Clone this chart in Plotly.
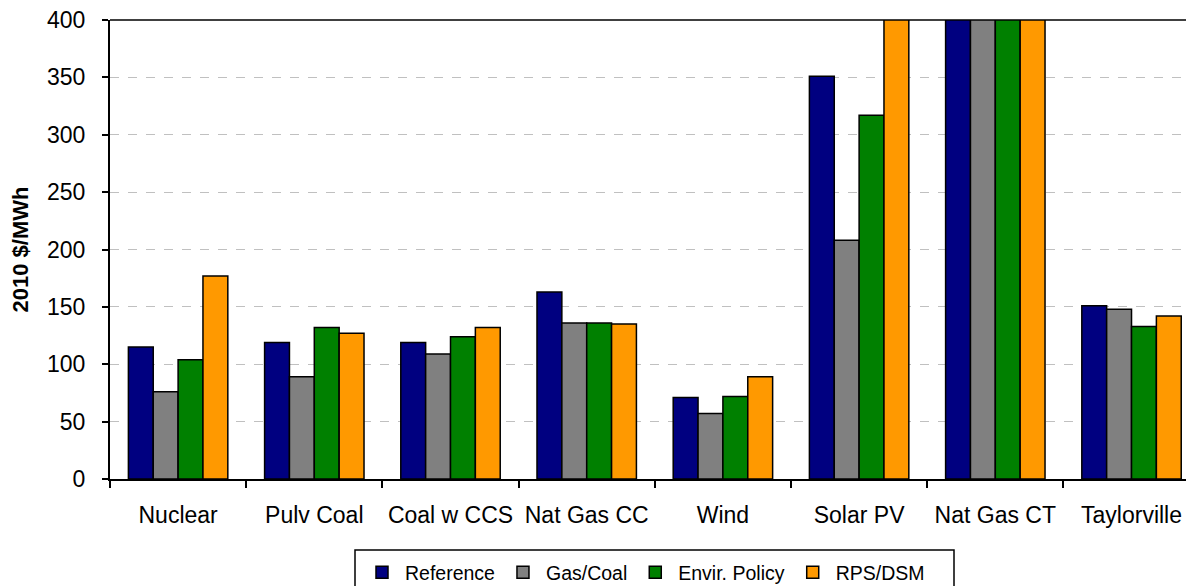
import plotly.graph_objects as go

# Levelized cost of generation by technology and scenario (2010 $/MWh)
technologies = ["Nuclear", "Pulv Coal", "Coal w CCS", "Nat Gas CC",
                "Wind", "Solar PV", "Nat Gas CT", "Taylorville"]

reference = [115, 119, 119, 163, 71, 351, 520, 151]
gas_coal = [76, 89, 109, 136, 57, 208, 470, 148]
envir_policy = [104, 132, 124, 136, 72, 317, 510, 133]
rps_dsm = [177, 127, 132, 135, 89, 450, 560, 142]

series_names = ["Reference", "Gas/Coal", "Envir. Policy", "RPS/DSM"]
series_values = [reference, gas_coal, envir_policy, rps_dsm]
series_colors = ["#000080", "#808080", "#008000", "#FF9900"]

y_ticks = [0, 50, 100, 150, 200, 250, 300, 350, 400]

FONT = "Liberation Sans, Arial, sans-serif"
FIG_W, FIG_H = 1186, 586

# Plot area in pixels: x 110..1186, y 20..479
PLOT_L, PLOT_W = 110, 1076
PLOT_B, PLOT_H = 479, 459


def px_x(p):
    return (p - PLOT_L) / PLOT_W


def px_y(p):
    return (PLOT_B - p) / PLOT_H


fig = go.Figure()
for name, vals, col in zip(series_names, series_values, series_colors):
    fig.add_trace(go.Bar(
        x=technologies, y=vals, name=name,
        marker=dict(color=col, line=dict(color="#000000", width=1.5)),
    ))

fig.update_layout(
    width=FIG_W, height=FIG_H,
    margin=dict(l=110, r=0, t=20, b=107, autoexpand=False),
    paper_bgcolor="white", plot_bgcolor="white",
    barmode="group", bargap=0.27, bargroupgap=0,
    font=dict(family=FONT, size=23, color="#000000"),
    showlegend=True,
    legend=dict(
        orientation="h",
        xref="container", x=359 / FIG_W, xanchor="left",
        yref="container", y=(FIG_H - 553) / FIG_H, yanchor="top",
        font=dict(family=FONT, size=19.5, color="#000000"),
        borderwidth=0, bgcolor="rgba(0,0,0,0)",
        itemwidth=36, traceorder="normal",
    ),
)

fig.update_xaxes(
    type="category", range=[-0.5, 7.40], automargin=False,
    tickson="boundaries", ticks="outside", ticklen=7, tickwidth=1.5,
    tickcolor="#000000",
    showline=True, linecolor="#000000", linewidth=2,
    showgrid=False, tickfont=dict(size=23),
    ticklabelstandoff=14,
)

fig.update_yaxes(
    range=[0, 400], tickvals=y_ticks, automargin=False,
    ticks="outside", ticklen=6, tickwidth=1.5, tickcolor="#000000",
    showline=True, linecolor="#000000", linewidth=2,
    showgrid=True, gridcolor="#c0c0c0", griddash="dash", gridwidth=1,
    zeroline=False, tickfont=dict(size=23),
    ticklabelstandoff=12,
)

# Plot area top border
fig.add_shape(type="line", xref="paper", yref="paper",
              x0=0, x1=1, y0=1, y1=1,
              line=dict(color="#000000", width=1.3))

# Legend frame
fig.add_shape(type="rect", xref="paper", yref="paper",
              x0=px_x(355), x1=px_x(954), y0=px_y(550), y1=px_y(600),
              line=dict(color="#000000", width=1.5), layer="below")

# Y-axis title
fig.add_annotation(
    text="<b>2010 $/MWh</b>", xref="paper", yref="paper",
    x=px_x(20), y=0.5, xanchor="center", yanchor="middle",
    textangle=-90, showarrow=False,
    font=dict(family=FONT, size=22, color="#000000"),
)

fig.write_html("out.html")
